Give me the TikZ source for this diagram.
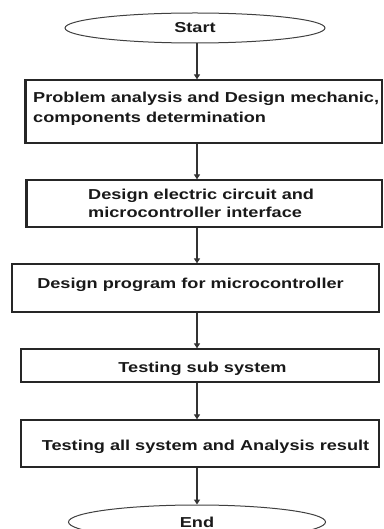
\documentclass[tikz,border=0pt]{standalone}
\usepackage{fontspec}
\setmainfont{Liberation Sans}[FakeStretch=1.26]
\usetikzlibrary{arrows.meta,shapes.geometric}
\begin{document}
\begin{tikzpicture}[x=1pt,y=-1pt,
  box/.style={draw=black!85,line width=1.3pt,rectangle,inner sep=0pt},
  oval/.style={draw=black!75,line width=1pt,ellipse,inner sep=0pt},
  txt/.style={font=\fontsize{14.4}{20}\selectfont\bfseries,text=black!90,inner sep=0pt},
  conn/.style={draw=black!80,line width=1.4pt,-{Triangle[length=5pt,width=6pt]}}]
\useasboundingbox (0,0) rectangle (383,529);
\clip (0,0) rectangle (383,529);
\node[oval,minimum width=260pt,minimum height=30pt] (start) at (195,28) {};
\node[txt,anchor=base] (ts) at (195,33) {Start};
\node[box,minimum width=356pt,minimum height=63pt] (b1) at (204,111.5) {};
\draw[line width=3pt,black!85] (b1.north west) -- (b1.south west);
\node[txt,anchor=base west,align=left] (t1) at (33,123) {Problem analysis and Design mechanic,\\components determination};
\node[box,minimum width=355pt,minimum height=47pt] (b2) at (204.5,203.5) {};
\draw[line width=3pt,black!85] (b2.north west) -- (b2.south west);
\node[txt,anchor=base west,align=left,font=\fontsize{14.4}{18}\selectfont\bfseries] (t2) at (88,218) {Design electric circuit and\\microcontroller interface};
\node[box,minimum width=367pt,minimum height=48pt] (b3) at (195.5,288) {};
\node[txt,anchor=base] (t3) at (190.5,288) {Design program for microcontroller};
\node[box,minimum width=358pt,minimum height=33pt] (b4) at (200,365.5) {};
\node[txt,anchor=base] (t4) at (202.5,372) {Testing sub system};
\node[box,minimum width=358pt,minimum height=47pt] (b5) at (200,443.5) {};
\node[txt,anchor=base] (t5) at (205.5,450) {Testing all system and Analysis result};
\node[oval,minimum width=257pt,minimum height=34pt] (end) at (197,522) {};
\node[txt,anchor=base] (te) at (197,527) {End};
\coordinate (ax) at (197,0);
\draw[conn] (ax |- start.south) -- (ax |- b1.north);
\draw[conn] (ax |- b1.south) -- (ax |- b2.north);
\draw[conn] (ax |- b2.south) -- (ax |- b3.north);
\draw[conn] (ax |- b3.south) -- (ax |- b4.north);
\draw[conn] (ax |- b4.south) -- (ax |- b5.north);
\draw[conn] (ax |- b5.south) -- (ax |- end.north);
\end{tikzpicture}
\end{document}
